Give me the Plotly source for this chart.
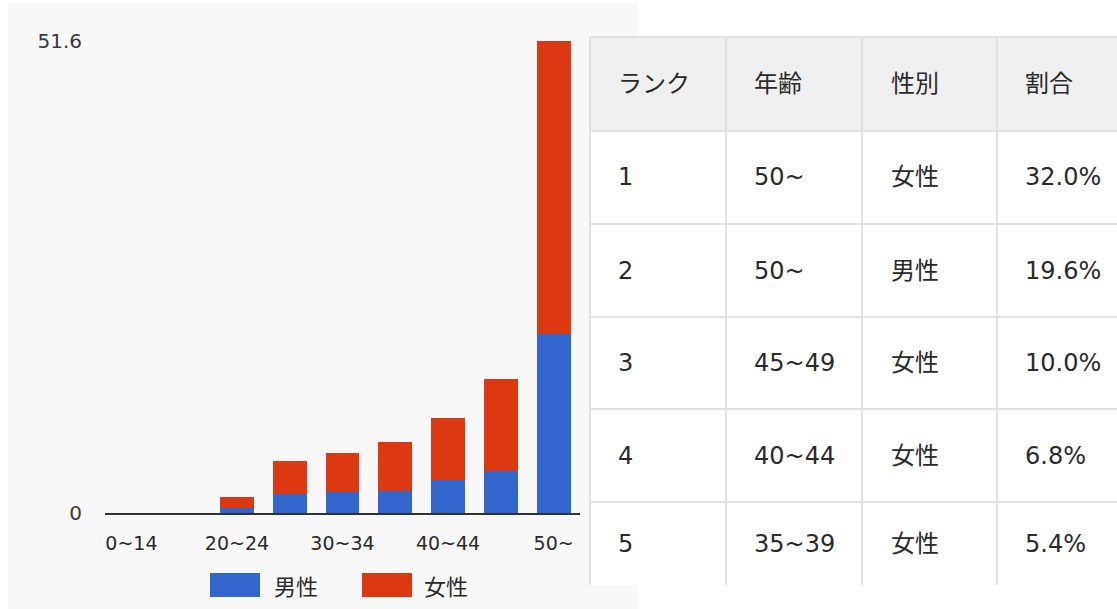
import plotly.graph_objects as go

# ---- data ----
age_groups = ["0~14", "15~19", "20~24", "25~29", "30~34", "35~39", "40~44", "45~49", "50~"]
male_vals = [0, 0, 0.6, 2.1, 2.3, 2.4, 3.6, 4.6, 19.6]
female_vals = [0, 0, 1.2, 3.6, 4.3, 5.4, 6.8, 10.0, 32.0]
x_tick_labels = ["0~14", "20~24", "30~34", "40~44", "50~"]
y_tick_vals = [0, 51.6]
y_tick_text = ["0", "51.6"]
series_names = ["男性", "女性"]

table_header = ["ランク", "年齢", "性別", "割合"]
table_rank = ["1", "2", "3", "4", "5"]
table_age = ["50~", "50~", "45~49", "40~44", "35~39"]
table_sex = ["女性", "男性", "女性", "女性", "女性"]
table_ratio = ["32.0%", "19.6%", "10.0%", "6.8%", "5.4%"]

# ---- layout helpers (pixel -> paper) ----
W, H = 1117, 609
def fx(px):
    return px / W
def fy(py):
    return 1 - py / H

BLUE = "#3366cc"
RED = "#dc3912"
FONT = "DejaVu Sans, Noto Sans CJK JP"
CJK = "Noto Sans CJK JP, DejaVu Sans"

fig = go.Figure()
fig.add_trace(go.Bar(x=age_groups, y=male_vals, name=series_names[0],
                     marker=dict(color=BLUE, line=dict(width=0))))
fig.add_trace(go.Bar(x=age_groups, y=female_vals, name=series_names[1],
                     marker=dict(color=RED, line=dict(width=0))))

shapes = []
annotations = []

# chart panel background
shapes.append(dict(type="rect", xref="paper", yref="paper", layer="below",
                   x0=fx(8), x1=fx(638), y0=fy(3), y1=fy(609),
                   fillcolor="#f8f8f8", line=dict(width=0)))

# table
col_edges = [590, 726, 862, 997, 1130]
row_edges = [37, 131, 224, 317, 409, 502, 585]
text_x = [616, 752, 889, 1023]
LINE = "#e2e2e2"
shapes.append(dict(type="rect", xref="paper", yref="paper", layer="below",
                   x0=fx(col_edges[0]), x1=fx(W), y0=fy(row_edges[0]), y1=fy(row_edges[1]),
                   fillcolor="#f0f0f0", line=dict(width=0)))
shapes.append(dict(type="rect", xref="paper", yref="paper", layer="below",
                   x0=fx(col_edges[0]), x1=fx(W), y0=fy(row_edges[1]), y1=fy(row_edges[-1]),
                   fillcolor="#ffffff", line=dict(width=0)))
for r in row_edges[:-1]:
    shapes.append(dict(type="line", xref="paper", yref="paper", layer="below",
                       x0=fx(col_edges[0]), x1=fx(W), y0=fy(r), y1=fy(r),
                       line=dict(color=LINE, width=2)))
for c in col_edges[:-1]:
    shapes.append(dict(type="line", xref="paper", yref="paper", layer="below",
                       x0=fx(c), x1=fx(c), y0=fy(row_edges[0]), y1=fy(row_edges[-1]),
                       line=dict(color=LINE, width=2)))

def cell_text(txt, col, row):
    yc = (row_edges[row] + row_edges[row + 1]) / 2
    annotations.append(dict(text=txt, xref="paper", yref="paper",
                            x=fx(text_x[col]), y=fy(yc), xanchor="left", yanchor="middle",
                            showarrow=False, font=dict(family=FONT, size=24, color="#2a2a2a")))

for ci, h in enumerate(table_header):
    cell_text(h, ci, 0)
for ri in range(len(table_rank)):
    for ci, col in enumerate([table_rank, table_age, table_sex, table_ratio]):
        cell_text(col[ri], ci, ri + 1)

# custom legend
legend_items = [(series_names[0], BLUE, 210, 272), (series_names[1], RED, 362, 422)]
for name, color, sx, tx in legend_items:
    shapes.append(dict(type="rect", xref="paper", yref="paper", layer="above",
                       x0=fx(sx), x1=fx(sx + 50), y0=fy(573), y1=fy(597),
                       fillcolor=color, line=dict(width=0)))
    annotations.append(dict(text=name, xref="paper", yref="paper",
                            x=fx(tx), y=fy(585), xanchor="left", yanchor="middle",
                            showarrow=False, font=dict(family=CJK, size=22, color="#2a2a2a")))

fig.update_layout(
    width=W, height=H, autosize=False,
    margin=dict(l=0, r=0, t=0, b=0, pad=0, autoexpand=False),
    paper_bgcolor="#ffffff",
    plot_bgcolor="rgba(0,0,0,0)",
    barmode="stack",
    bargap=0.36,
    showlegend=False,
    shapes=shapes,
    annotations=annotations,
    font=dict(family=FONT, color="#444444"),
    xaxis=dict(domain=[fx(105), fx(580)], type="category", automargin=False,
               tickmode="array", tickvals=x_tick_labels, ticktext=x_tick_labels,
               showgrid=False, zeroline=False, showline=True, linecolor="#333333", linewidth=2,
               ticks="", ticklabelstandoff=12, tickfont=dict(family=FONT, size=19, color="#2a2a2a"),
               fixedrange=True),
    yaxis=dict(domain=[fy(513), fy(41)], range=[0, 51.6], automargin=False,
               tickmode="array", tickvals=y_tick_vals, ticktext=y_tick_text,
               showgrid=True, gridcolor="#cccccc", gridwidth=1, zeroline=False,
               ticks="", ticklabelstandoff=22, tickfont=dict(family=FONT, size=20, color="#3a3a3a"),
               fixedrange=True),
)

fig.write_html("out.html",
               config={"displayModeBar": False, "responsive": False, "staticPlot": True},
               post_script="document.body.style.margin='0';document.body.style.padding='0';document.body.style.overflow='hidden';")
